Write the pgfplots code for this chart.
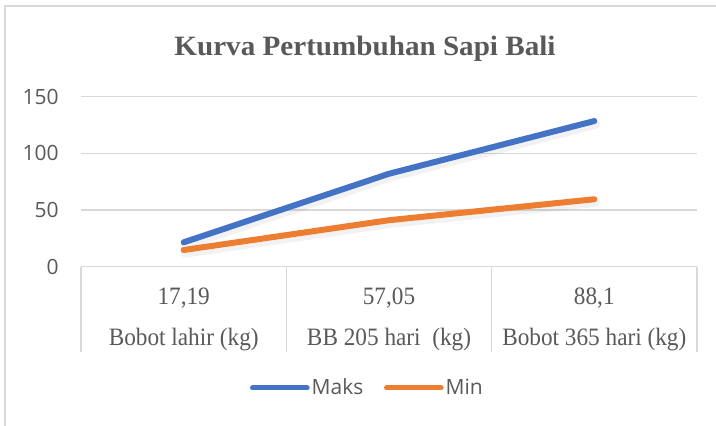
\documentclass[border=0pt]{standalone}
\usepackage{pgfplots}
\pgfplotsset{compat=1.18}
\usepackage{fontspec}
\setmainfont{Liberation Serif}
\newfontfamily\sansf{Open Sans}
\newfontfamily\tabf[FakeStretch=0.93]{Liberation Serif}
\newfontfamily\titlef[FakeStretch=1.04]{Liberation Serif}
\definecolor{maks}{HTML}{4472C4}
\definecolor{minc}{HTML}{ED7D31}
\definecolor{gridc}{HTML}{D9D9D9}
\definecolor{txt}{HTML}{595959}

\begin{document}
\begin{tikzpicture}
\begin{axis}[
  scale only axis, width=462pt, height=127.5pt,
  at={(60.75pt,-200pt)}, anchor=south west,
  xmin=-0.5, xmax=2.5, ymin=0, ymax=150,
  ytick={0,50,100,150},
  xtick=\empty,
  axis line style={draw=none},
  ymajorgrids, major grid style={gridc, line width=1.1pt},
  major tick length=0pt,
  /pgf/number format/assume math mode=true,
  yticklabel style={font=\sansf\fontsize{15.75}{18}\selectfont, text=txt, inner sep=0pt, anchor=east, xshift=-16.5pt},
  clip=false,
  legend columns=2,
  legend style={at={(0.465,-0.7135)}, anchor=center, draw=none, fill=none,
    font=\sansf\fontsize{15.75}{18}\selectfont, text=txt,
    /tikz/every even column/.append style={column sep=14pt},
    nodes={inner sep=1.5pt}},
  legend image code/.code={\draw[#1, line width=3.75pt, line cap=round] (0pt,0pt) -- (41pt,0pt);},
]
\addplot[forget plot, draw=black, opacity=0.05, line width=6.5pt, line cap=round, line join=round, xshift=1pt, yshift=-2.5pt]
  coordinates {(0,21.5) (1,82) (2,128.5)};
\addplot[forget plot, draw=black, opacity=0.05, line width=6.5pt, line cap=round, line join=round, xshift=1pt, yshift=-2.5pt]
  coordinates {(0,14.7) (1,41) (2,59.5)};
\addplot[maks, line width=4.5pt, line cap=round, line join=round]
  coordinates {(0,21.5) (1,82) (2,128.5)};
\addlegendentry{Maks}
\addplot[minc, line width=4.5pt, line cap=round, line join=round]
  coordinates {(0,14.7) (1,41) (2,59.5)};
\addlegendentry{Min}
\end{axis}
\begin{scope}[x=0.75pt,y=-0.75pt]
\foreach \x in {81,286.3,491.7,697} \draw[gridc, line width=1.1pt] (\x,266.7) -- (\x,352);
\tikzset{tb/.style={anchor=base, font=\tabf\fontsize{18.75}{22}\selectfont, text=txt, inner sep=0pt}}
\node[tb] at (183.7,304) {17,19};
\node[tb] at (389,304) {57,05};
\node[tb] at (594.3,304) {88,1};
\node[tb] at (183.7,345) {Bobot lahir (kg)};
\node[tb] at (389,345) {BB 205 hari\ \ (kg)};
\node[tb] at (594.3,345) {Bobot 365 hari (kg)};
\node[anchor=base, font=\titlef\bfseries\fontsize{21}{25}\selectfont, text=txt, inner sep=0pt] at (365,55) {Kurva Pertumbuhan Sapi Bali};
\draw[gridc, line width=1.5pt] (5,440) -- (5,6) -- (730,6);
\pgfresetboundingbox
\path (0,0) rectangle (716,425);
\end{scope}
\end{tikzpicture}
\end{document}
